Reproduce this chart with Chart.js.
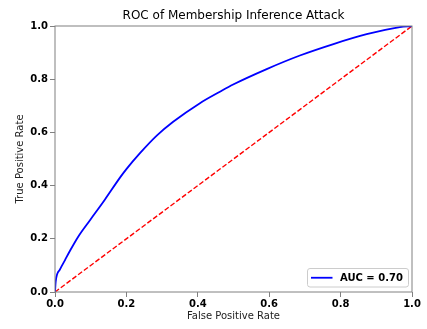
<!DOCTYPE html>
<html>
<head>
<meta charset="utf-8">
<script src="https://cdn.jsdelivr.net/npm/chart.js@4"></script>
<style>
  html, body { margin: 0; padding: 0; background: #fff; }
  #wrap { width: 427px; height: 329px; }
</style>
</head>
<body>
<div id="wrap"><canvas id="chart-roc"></canvas></div>
<script>
// ROC curve
const fpr = [0, 0.002, 0.014, 0.028, 0.042, 0.065, 0.098, 0.14, 0.182, 0.2, 0.238, 0.285, 0.331, 0.406, 0.462, 0.499, 0.593, 0.686, 0.78, 0.873, 0.966, 1.0];
const tpr = [0, 0.04, 0.085, 0.12, 0.155, 0.208, 0.27, 0.348, 0.43, 0.462, 0.522, 0.588, 0.64, 0.71, 0.753, 0.78, 0.838, 0.889, 0.932, 0.969, 0.996, 1.0];
const chanceX = [0, 1];
const chanceY = [0, 1];
const tickValues = [0, 0.2, 0.4, 0.6, 0.8, 1.0];
const aucLabel = "AUC = 0.70";
const chartTitle = "ROC of Membership Inference Attack";

const rocPoints = fpr.map((x, i) => ({ x: x, y: tpr[i] }));
const chancePoints = chanceX.map((x, i) => ({ x: x, y: chanceY[i] }));

const FONT = "'DejaVu Sans', sans-serif";
const SPINE = "#808080";

// title centred over the plot area, like matplotlib
const plotTitle = {
  id: "plotTitle",
  afterDraw(chart) {
    const { ctx, chartArea: a } = chart;
    ctx.save();
    ctx.fillStyle = "#000";
    ctx.font = "12px " + FONT;
    ctx.textAlign = "center";
    ctx.textBaseline = "alphabetic";
    ctx.fillText(chartTitle, (a.left + a.right) / 2, 19);
    ctx.restore();
  }
};

// matplotlib-like legend box in lower right
const legendBox = {
  id: "legendBox",
  afterDraw(chart) {
    const ctx = chart.ctx;
    const area = chart.chartArea;
    const ds = chart.data.datasets[0];
    const w = 101, h = 18.5;
    const x = area.right - 3.5 - w;
    const y = area.bottom - 5 - h;
    ctx.save();
    ctx.beginPath();
    ctx.roundRect(x, y, w, h, 2.5);
    ctx.fillStyle = "rgba(255,255,255,0.8)";
    ctx.fill();
    ctx.strokeStyle = "#cccccc";
    ctx.lineWidth = 1;
    ctx.stroke();
    ctx.beginPath();
    ctx.moveTo(x + 3.5, y + h / 2);
    ctx.lineTo(x + 25, y + h / 2);
    ctx.strokeStyle = ds.borderColor;
    ctx.lineWidth = ds.borderWidth;
    ctx.stroke();
    ctx.fillStyle = "#000";
    ctx.font = "bold 10px " + FONT;
    ctx.textBaseline = "middle";
    ctx.fillText(ds.label, x + 32.5, y + h / 2 + 0.5);
    ctx.restore();
  }
};

// full box around the plot area
const frame = {
  id: "frame",
  afterDatasetsDraw(chart) {
    const { ctx, chartArea: a } = chart;
    ctx.save();
    ctx.strokeStyle = SPINE;
    ctx.lineWidth = 1;
    ctx.strokeRect(a.left, a.top, a.right - a.left, a.bottom - a.top);
    ctx.restore();
  }
};

new Chart(document.getElementById("chart-roc").getContext("2d"), {
  type: "line",
  data: {
    datasets: [
      {
        label: aucLabel,
        data: rocPoints,
        borderColor: "#0000ff",
        borderWidth: 1.8,
        pointRadius: 0,
        cubicInterpolationMode: "monotone",
        fill: false
      },
      {
        label: "chance",
        data: chancePoints,
        borderColor: "#ff0000",
        borderWidth: 1.4,
        borderDash: [5, 2.2],
        pointRadius: 0,
        fill: false
      }
    ]
  },
  options: {
    responsive: true,
    maintainAspectRatio: false,
    animation: false,
    layout: { padding: { left: 0, right: 15, top: 26, bottom: 0 } },
    plugins: {
      legend: { display: false },
      tooltip: { enabled: false },
      title: { display: false }
    },
    scales: {
      x: {
        type: "linear",
        min: 0,
        max: 1,
        afterFit: (s) => { s.height = 37; },
        afterBuildTicks: (s) => { s.ticks = tickValues.map((v) => ({ value: v })); },
        grid: { display: true, drawOnChartArea: false, drawTicks: true, tickLength: 5, color: SPINE },
        border: { display: false },
        ticks: {
          padding: 1,
          color: "#000",
          font: { family: FONT, size: 10, weight: "bold" },
          callback: (v) => v.toFixed(1),
          maxRotation: 0
        },
        title: {
          display: true,
          text: "False Positive Rate",
          color: "#222",
          font: { family: FONT, size: 10 },
          padding: { top: 0, bottom: 6.5 }
        }
      },
      y: {
        type: "linear",
        min: 0,
        max: 1,
        afterFit: (s) => { s.width = 55; },
        afterBuildTicks: (s) => { s.ticks = tickValues.map((v) => ({ value: v })); },
        grid: { display: true, drawOnChartArea: false, drawTicks: true, tickLength: 5, color: SPINE },
        border: { display: false },
        ticks: {
          padding: 2,
          color: "#000",
          font: { family: FONT, size: 10, weight: "bold" },
          callback: (v) => v.toFixed(1)
        },
        title: {
          display: true,
          text: "True Positive Rate",
          color: "#222",
          font: { family: FONT, size: 10 },
          padding: { top: 14.5, bottom: 0 }
        }
      }
    }
  },
  plugins: [frame, legendBox, plotTitle]
});
</script>
</body>
</html>
